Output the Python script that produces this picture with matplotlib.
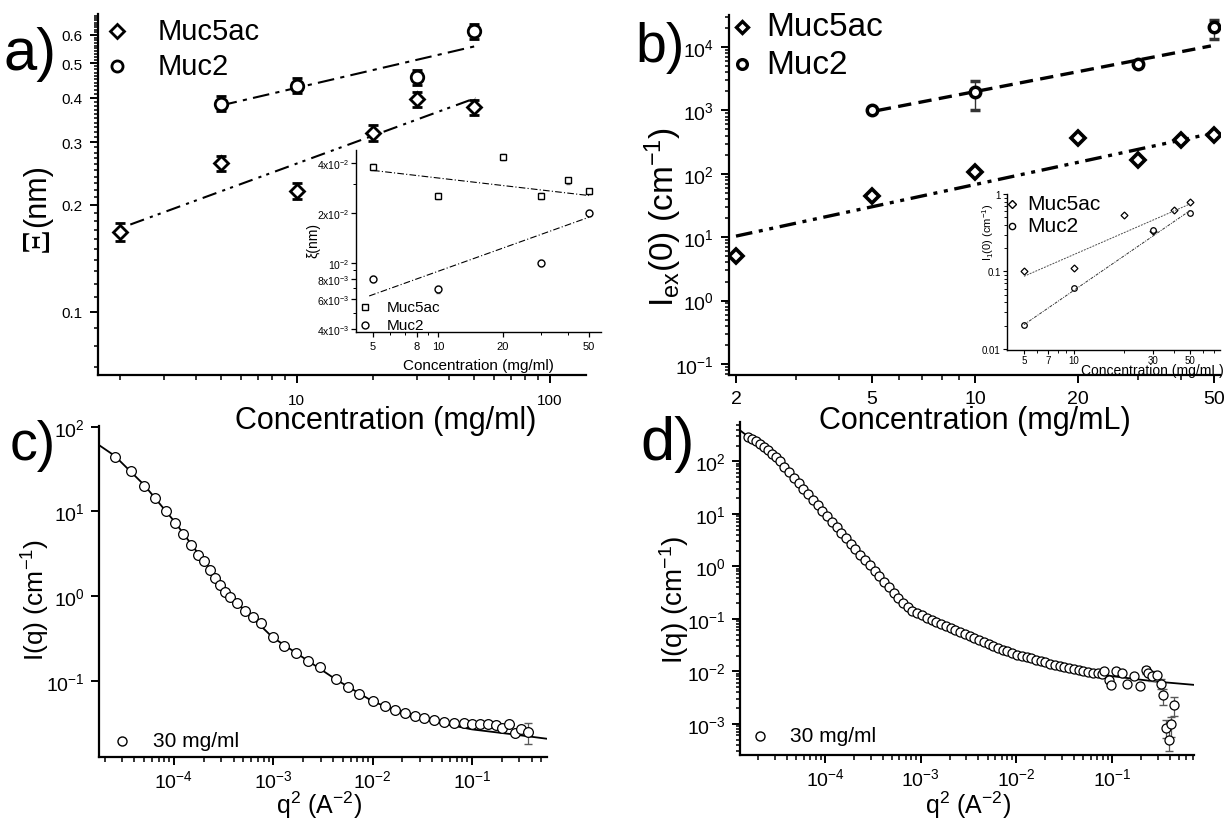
import numpy as np
import matplotlib
matplotlib.use('Agg')
import matplotlib.pyplot as plt
from matplotlib.lines import Line2D
from matplotlib.ticker import FixedLocator, FixedFormatter, NullFormatter

plt.rcParams['font.family'] = ['Liberation Sans', 'DejaVu Sans']
plt.rcParams['mathtext.fontset'] = 'custom'
plt.rcParams['mathtext.rm'] = 'Liberation Sans'
plt.rcParams['mathtext.it'] = 'Liberation Sans:italic'
plt.rcParams['mathtext.bf'] = 'Liberation Sans:bold'
plt.rcParams['mathtext.default'] = 'regular'

# ------------------------------------------------------------------ data
# panel a (main)
a_conc_muc5ac = [2, 5, 10, 20, 30, 50]
a_xi_muc5ac = [0.168, 0.262, 0.219, 0.319, 0.396, 0.376]
a_err_muc5ac = [0.010, 0.013, 0.011, 0.016, 0.020, 0.019]
a_conc_muc2 = [5, 10, 30, 50]
a_xi_muc2 = [0.385, 0.432, 0.456, 0.614]
a_err_muc2 = [0.019, 0.021, 0.022, 0.030]
a_fit_muc5ac_x = [2.2, 51]
a_fit_muc5ac_y = [0.176, 0.399]
a_fit_muc2_x = [5, 52]
a_fit_muc2_y = [0.380, 0.560]
a_yticks = [0.1, 0.2, 0.3, 0.4, 0.5, 0.6]
a_ylabels = ['0.1', '0.2', '0.3', '0.4', '0.5', '0.6']
a_xticks = [10, 100]
a_xlabels = ['10', '100']

# panel a (inset)
ai_conc_muc5ac = [5, 10, 20, 30, 40, 50]
ai_xi_muc5ac = [0.0378, 0.0252, 0.0434, 0.0252, 0.0313, 0.0269]
ai_err_muc5ac = [0.0015, 0.0010, 0.0017, 0.0010, 0.0013, 0.0011]
ai_conc_muc2 = [5, 10, 30, 50]
ai_xi_muc2 = [0.0080, 0.0069, 0.0100, 0.0200]
ai_err_muc2 = [0.0003, 0.0003, 0.0004, 0.0008]
ai_fit_muc5ac_x = [5, 50]
ai_fit_muc5ac_y = [0.0360, 0.0254]
ai_fit_muc2_x = [4.8, 50]
ai_fit_muc2_y = [0.0063, 0.0188]
ai_xticks = [5, 8, 10, 20, 50]
ai_xlabels = ['5', '8', '10', '20', '50']
ai_yticks = [0.004, 0.006, 0.008, 0.01, 0.02, 0.04]
ai_ylabels = ['4x10$^{-3}$', '6x10$^{-3}$', '8x10$^{-3}$', '10$^{-2}$',
              '2x10$^{-2}$', '4x10$^{-2}$']

# panel b (main)
b_conc_muc5ac = [2, 5, 10, 20, 30, 40, 50]
b_i0_muc5ac = [5.1, 43.9, 108, 366, 168, 340, 413]
b_err_muc5ac = [0.5, 4, 10, 30, 20, 30, 35]
b_conc_muc2 = [5, 10, 30, 50]
b_i0_muc2 = [1012, 1972, 5324, 20700]
b_err_muc2_lo = [60, 972, 300, 7500]
b_err_muc2_hi = [60, 928, 300, 6300]
b_fit_muc5ac_x = [2, 50]
b_fit_muc5ac_y = [10.4, 440]
b_fit_muc2_x = [5.2, 49]
b_fit_muc2_y = [1000, 10400]
b_xticks = [2, 5, 10, 20, 50]
b_xlabels = ['2', '5', '10', '20', '50']
b_yticks = [0.1, 1, 10, 100, 1000, 10000]
b_ylabels = ['10$^{-1}$', '10$^{0}$', '10$^{1}$', '10$^{2}$', '10$^{3}$', '10$^{4}$']

# panel b (inset)
bi_conc_muc5ac = [5, 10, 20, 30, 40, 50]
bi_i1_muc5ac = [0.100, 0.111, 0.54, 0.33, 0.628, 0.80]
bi_conc_muc2 = [5, 10, 30, 50]
bi_i1_muc2 = [0.0206, 0.061, 0.343, 0.569]
bi_fit_muc5ac_x = [5, 50]
bi_fit_muc5ac_y = [0.0867, 0.743]
bi_fit_muc2_x = [5, 50]
bi_fit_muc2_y = [0.0206, 0.61]
bi_xticks = [5, 7, 10, 30, 50]
bi_xlabels = ['5', '7', '10', '30', '50']
bi_yticks = [0.01, 0.1, 1]
bi_ylabels = ['0.01', '0.1', '1']

# panel c
c_q2 = [2.53e-5, 3.66e-5, 5.04e-5, 6.50e-5, 8.33e-5, 1.02e-4, 1.22e-4, 1.47e-4,
        1.73e-4, 2.00e-4, 2.30e-4, 2.61e-4, 2.94e-4, 3.28e-4, 3.70e-4, 4.32e-4,
        5.19e-4, 6.24e-4, 7.48e-4, 9.85e-4, 1.29e-3, 1.71e-3, 2.24e-3, 2.95e-3,
        4.26e-3, 5.60e-3, 7.36e-3, 1.01e-2, 1.34e-2, 1.68e-2, 2.11e-2, 2.65e-2,
        3.33e-2, 4.19e-2, 5.27e-2, 6.62e-2, 8.32e-2, 0.100, 0.120, 0.144,
        0.173, 0.199, 0.238, 0.273, 0.313, 0.370]
c_I = [44.2, 29.9, 20.0, 14.4, 10.0, 7.29, 5.45, 3.97,
       3.08, 2.59, 2.04, 1.64, 1.36, 1.13, 0.970, 0.830,
       0.674, 0.562, 0.482, 0.326, 0.259, 0.212, 0.172, 0.144,
       0.104, 0.0855, 0.0695, 0.0579, 0.0505, 0.0453, 0.0414, 0.0385,
       0.0361, 0.0342, 0.0330, 0.0321, 0.0315, 0.0306, 0.0306, 0.0312,
       0.0298, 0.0280, 0.0306, 0.0244, 0.0267, 0.0249]
c_err_x = [0.370]
c_err_y = [0.0249]
c_err_lo = [0.0072]
c_err_hi = [0.0070]
c_fit_q2 = [1.76e-5, 2.53e-5, 5.04e-5, 1.02e-4, 2.00e-4, 4.32e-4, 9.85e-4,
            2.24e-3, 4.26e-3, 1.01e-2, 2.65e-2, 0.100, 0.261, 0.568]
c_fit_I = [60.7, 45.4, 20.4, 7.50, 2.59, 0.830, 0.326,
           0.172, 0.104, 0.0569, 0.0367, 0.0267, 0.0233, 0.0207]
c_xticks = [1e-4, 1e-3, 1e-2, 1e-1]
c_xlabels = ['10$^{-4}$', '10$^{-3}$', '10$^{-2}$', '10$^{-1}$']
c_yticks = [0.1, 1, 10, 100]
c_ylabels = ['10$^{-1}$', '10$^{0}$', '10$^{1}$', '10$^{2}$']

# panel d
d_q2 = [1.56e-5, 1.72e-5, 1.89e-5, 2.08e-5, 2.28e-5, 2.51e-5, 2.76e-5, 3.04e-5,
        3.34e-5, 3.75e-5, 4.21e-5, 4.71e-5, 5.28e-5, 5.92e-5, 6.64e-5, 7.45e-5,
        8.34e-5, 9.35e-5, 1.05e-4, 1.17e-4, 1.32e-4, 1.48e-4, 1.66e-4, 1.86e-4,
        2.08e-4, 2.33e-4, 2.62e-4, 2.93e-4, 3.29e-4, 3.69e-4, 4.13e-4, 4.63e-4,
        5.20e-4, 5.82e-4, 6.53e-4, 7.33e-4, 8.20e-4, 9.20e-4, 1.03e-3, 1.16e-3,
        1.30e-3, 1.46e-3, 1.63e-3, 1.83e-3, 2.05e-3, 2.30e-3, 2.58e-3, 2.88e-3,
        3.24e-3, 3.63e-3, 4.07e-3, 4.56e-3, 5.12e-3, 5.73e-3, 6.43e-3, 7.21e-3,
        8.07e-3, 9.06e-3, 1.02e-2, 1.14e-2, 1.28e-2, 1.43e-2, 1.60e-2, 1.80e-2,
        2.01e-2, 2.26e-2, 2.53e-2, 2.84e-2, 3.18e-2, 3.57e-2, 4.00e-2, 4.49e-2,
        5.03e-2, 5.64e-2, 6.32e-2, 7.10e-2, 7.94e-2, 8.26e-2, 9.25e-2, 9.80e-2,
        0.110, 0.127, 0.144, 0.169, 0.195, 0.224, 0.240, 0.264,
        0.298, 0.329, 0.344, 0.368, 0.397, 0.417, 0.446]
d_I = [291, 267, 240, 214, 188, 162, 140, 119,
       100, 79.1, 62.6, 48.8, 38.6, 30.1, 23.8, 18.6,
       14.7, 11.5, 9.08, 7.08, 5.60, 4.37, 3.46, 2.70,
       2.13, 1.66, 1.32, 1.04, 0.813, 0.643, 0.501, 0.397,
       0.310, 0.248, 0.202, 0.168, 0.143, 0.127, 0.116, 0.105,
       0.0946, 0.0867, 0.0794, 0.0728, 0.0667, 0.0610, 0.0558, 0.0512,
       0.0469, 0.0430, 0.0394, 0.0361, 0.0330, 0.0302, 0.0281, 0.0258,
       0.0239, 0.0222, 0.0207, 0.0195, 0.0184, 0.0176, 0.0166, 0.0159,
       0.0150, 0.0141, 0.0135, 0.0127, 0.0122, 0.0117, 0.0112, 0.0107,
       0.0102, 0.0098, 0.0095, 0.0092, 0.0089, 0.0100, 0.0067, 0.0056,
       0.0100, 0.0094, 0.0058, 0.0081, 0.0052, 0.0104, 0.0094, 0.0083,
       0.0086, 0.0058, 0.00347, 0.00084, 0.00050, 0.00100, 0.00224]
d_err_x = [0.224, 0.264, 0.329, 0.344, 0.368, 0.397, 0.417, 0.446]
d_err_y = [0.0104, 0.0083, 0.0058, 0.00347, 0.00084, 0.00050, 0.00100, 0.00224]
d_err_lo = [0.0015, 0.0018, 0.0012, 0.0012, 0.00030, 0.00020, 0.00045, 0.00085]
d_err_hi = [0.0015, 0.0018, 0.0012, 0.0012, 0.00035, 0.00038, 0.00034, 0.00096]
d_fit_q2 = [1.29e-5, 1.56e-5, 2.28e-5, 3.34e-5, 5.92e-5, 1.0e-4, 2.93e-4, 6.53e-4,
            1.03e-3, 1.83e-3, 4.56e-3, 1.02e-2, 3.18e-2, 0.100, 0.285, 0.72]
d_fit_I = [390, 299, 193, 100, 30.1, 10.1, 1.04, 0.202,
           0.116, 0.0728, 0.0361, 0.0207, 0.0122, 0.0081, 0.0064, 0.00553]
d_xticks = [1e-4, 1e-3, 1e-2, 1e-1]
d_xlabels = ['10$^{-4}$', '10$^{-3}$', '10$^{-2}$', '10$^{-1}$']
d_yticks = [1e-3, 1e-2, 1e-1, 1, 10, 100]
d_ylabels = ['10$^{-3}$', '10$^{-2}$', '10$^{-1}$', '10$^{0}$', '10$^{1}$', '10$^{2}$']

# ------------------------------------------------------------------ helpers
W, H = 1226, 820
fig = plt.figure(figsize=(W / 100, H / 100), dpi=100)


def fx(x):
    return x / W


def fy(y):
    return 1 - y / H


def ax_px(l, t, r, b):
    return fig.add_axes([l / W, 1 - b / H, (r - l) / W, (b - t) / H])


def base(ax, xlim, ylim, lw=1.6):
    ax.set_xscale('log')
    ax.set_yscale('log')
    ax.set_xlim(*xlim)
    ax.set_ylim(*ylim)
    for s in ['top', 'right']:
        ax.spines[s].set_visible(False)
    for s in ['left', 'bottom']:
        ax.spines[s].set_linewidth(lw)


def ticks(ax, axis, major, labels, minor, fs, pad, mlen=6, nlen=3.5, width=1.4):
    a = ax.xaxis if axis == 'x' else ax.yaxis
    a.set_major_locator(FixedLocator(major))
    a.set_major_formatter(FixedFormatter(labels))
    a.set_minor_locator(FixedLocator(minor))
    a.set_minor_formatter(NullFormatter())
    ax.tick_params(axis=axis, which='major', direction='out', length=mlen,
                   width=width, labelsize=fs, pad=pad)
    ax.tick_params(axis=axis, which='minor', direction='out', length=nlen,
                   width=width * 0.8)


def log_minor(lo, hi):
    out = []
    for d in range(lo, hi + 1):
        for s in range(2, 10):
            out.append(s * 10.0 ** d)
    return out


def legend_item(x, y, marker, ms, mew, text, tx, fs):
    fig.add_artist(Line2D([fx(x)], [fy(y)], transform=fig.transFigure,
                          marker=marker, ms=ms, mfc='white', mec='black',
                          mew=mew, ls='none'))
    fig.text(fx(tx), fy(y), text, fontsize=fs, ha='left', va='center')


# ------------------------------------------------------------------ panel a
ax = ax_px(98, 15, 586, 376)
base(ax, (1.64, 139), (0.0665, 0.687))
ticks(ax, 'x', a_xticks, a_xlabels,
      [2, 3, 4, 5, 6, 7, 8, 9, 20, 30, 40, 50, 60, 70, 80, 90], 11, 7)
ya_minor = [v for v in np.round(np.arange(0.07, 0.685, 0.01), 2)
            if not any(abs(v - t) < 1e-6 for t in a_yticks)]
ticks(ax, 'y', a_yticks, a_ylabels, ya_minor, 11, 5, nlen=3)
ax.errorbar(a_conc_muc5ac, a_xi_muc5ac, yerr=a_err_muc5ac, fmt='D', ms=7.5,
            mfc='white', mec='black', mew=2.0, ecolor='black', elinewidth=1.2,
            capsize=3.5, capthick=1.2, zorder=3)
ax.errorbar(a_conc_muc2, a_xi_muc2, yerr=a_err_muc2, fmt='o', ms=9,
            mfc='white', mec='black', mew=2.0, ecolor='black', elinewidth=1.2,
            capsize=3.5, capthick=1.2, zorder=3)
ax.plot(a_fit_muc5ac_x, a_fit_muc5ac_y, color='black', lw=1.5,
        dashes=(7, 3, 1.5, 2.5, 1.5, 3))
ax.plot(a_fit_muc2_x, a_fit_muc2_y, color='black', lw=1.5, dashes=(8, 3, 2, 3))

legend_item(117, 32, 'D', 7.5, 2.0, 'Muc5ac', 158, 21)
legend_item(117, 67, 'o', 8, 2.0, 'Muc2', 158, 21)
fig.text(fx(4), fy(70), 'a)', fontsize=43, ha='left', va='baseline')
fig.text(fx(386), fy(421), 'Concentration (mg/ml)', fontsize=22,
         ha='center', va='center')
fig.text(fx(37), fy(196), '(nm)', fontsize=22, rotation=90,
         ha='center', va='center')
fig.text(fx(38), fy(240), 'Ξ', fontsize=28, rotation=90, ha='center',
         va='center', family=['Liberation Serif', 'DejaVu Serif'])

# inset a
axi = ax_px(356, 151, 601, 333)
base(axi, (4.17, 56.8), (0.00382, 0.0478), lw=1.0)
ticks(axi, 'x', ai_xticks, ai_xlabels, [6, 7, 9, 30, 40], 8, 3,
      mlen=3.5, nlen=2, width=0.9)
ticks(axi, 'y', ai_yticks, ai_ylabels, [0.005, 0.007, 0.009, 0.03], 7.5, 1.5,
      mlen=3.5, nlen=2, width=0.9)
axi.errorbar(ai_conc_muc5ac, ai_xi_muc5ac, yerr=ai_err_muc5ac,
             fmt='s', ms=4.5, mfc='white', mec='black', mew=1.0,
             ecolor='0.4', elinewidth=0.8, capsize=1.5)
axi.errorbar(ai_conc_muc2, ai_xi_muc2, yerr=ai_err_muc2,
             fmt='o', ms=5, mfc='white', mec='black', mew=1.0,
             ecolor='0.4', elinewidth=0.8, capsize=1.5)
axi.plot(ai_fit_muc5ac_x, ai_fit_muc5ac_y, color='black', lw=0.8,
         dashes=(6, 2, 1, 2))
axi.plot(ai_fit_muc2_x, ai_fit_muc2_y, color='black', lw=0.8,
         dashes=(6, 2, 1, 2))
legend_item(365, 308, 's', 4.5, 1.0, 'Muc5ac', 387, 11)
legend_item(365, 326, 'o', 5, 1.0, 'Muc2', 387, 11)
fig.text(fx(478), fy(366), 'Concentration (mg/ml)', fontsize=11,
         ha='center', va='center')
fig.text(fx(313), fy(240), 'ξ(nm)', fontsize=10, rotation=90,
         ha='center', va='center')

# ------------------------------------------------------------------ panel b
bx = ax_px(729, 16, 1220, 376)
base(bx, (1.908, 52.1), (0.067, 3.2e4))
ticks(bx, 'x', b_xticks, b_xlabels, [3, 4, 6, 7, 8, 9, 30, 40], 14, 5)
ticks(bx, 'y', b_yticks, b_ylabels, log_minor(-2, 4), 14, 5, nlen=3)
bx.errorbar(b_conc_muc5ac, b_i0_muc5ac, yerr=b_err_muc5ac, fmt='D', ms=7.5,
            mfc='white', mec='black', mew=2.6, ecolor='0.45', elinewidth=1.0,
            capsize=2.5, zorder=3)
bx.errorbar(b_conc_muc2, b_i0_muc2, yerr=[b_err_muc2_lo, b_err_muc2_hi],
            fmt='o', ms=7.5, mfc='white', mec='black', mew=2.5, ecolor='0.2',
            elinewidth=1.0, capsize=3.5, zorder=3)
bx.plot(b_fit_muc5ac_x, b_fit_muc5ac_y, color='black', lw=2.4,
        dashes=(5, 2, 1.2, 2, 1.2, 2))
bx.plot(b_fit_muc2_x, b_fit_muc2_y, color='black', lw=2.4, dashes=(4, 2.2))

legend_item(742, 28, 'D', 6.5, 2.4, 'Muc5ac', 766, 24)
legend_item(742, 65, 'o', 7, 2.4, 'Muc2', 766, 24)
fig.text(fx(635), fy(62), 'b)', fontsize=40, ha='left', va='baseline')
fig.text(fx(975), fy(421), 'Concentration (mg/mL)', fontsize=22,
         ha='center', va='center')
fig.text(fx(663), fy(217), 'I$_{ex}$(0) (cm$^{-1}$)', fontsize=24,
         rotation=90, ha='center', va='center')

# inset b
bxi = ax_px(1007, 195, 1220, 351)
base(bxi, (3.95, 75.9), (0.0097, 1.0), lw=1.0)
ticks(bxi, 'x', bi_xticks, bi_xlabels, [6, 8, 9, 20, 40, 60, 70], 7, 0.5,
      mlen=3, nlen=2, width=0.8)
ticks(bxi, 'y', bi_yticks, bi_ylabels, log_minor(-2, -1), 7, 1.5,
      mlen=3, nlen=2, width=0.8)
bxi.plot(bi_conc_muc5ac, bi_i1_muc5ac, 'D', ms=3.5, mfc='white', mec='black',
         mew=0.9)
bxi.plot(bi_conc_muc2, bi_i1_muc2, 'o', ms=4, mfc='white', mec='black', mew=0.9)
bxi.plot(bi_fit_muc5ac_x, bi_fit_muc5ac_y, color='0.3', lw=0.7, dashes=(2, 1.2))
bxi.plot(bi_fit_muc2_x, bi_fit_muc2_y, color='0.2', lw=0.7,
         dashes=(3, 1.2, 1, 1.2))
legend_item(1012, 205, 'D', 4, 1.0, 'Muc5ac', 1027, 15)
legend_item(1012, 227, 'o', 4.5, 1.0, 'Muc2', 1027, 15)
fig.text(fx(1152), fy(371), 'Concentration (mg/mL)', fontsize=10,
         ha='center', va='center')
fig.text(fx(988), fy(232), 'I$_{1}$(0) (cm$^{-1}$)', fontsize=8,
         rotation=90, ha='center', va='center')

# ------------------------------------------------------------------ panel c
cx = ax_px(99, 427, 547, 758)
base(cx, (1.76e-5, 0.57), (0.0126, 102))
ticks(cx, 'x', c_xticks, c_xlabels, log_minor(-5, -1), 14, 3)
ticks(cx, 'y', c_yticks, c_ylabels, [], 14, 4)
cx.plot(c_fit_q2, c_fit_I, color='black', lw=1.3, zorder=2)
cx.errorbar(c_err_x, c_err_y, yerr=[c_err_lo, c_err_hi], fmt='none',
            ecolor='0.35', elinewidth=0.9, capsize=3, zorder=3)
cx.plot(c_q2, c_I, 'o', ms=7, mfc='white', mec='black', mew=0.9, zorder=4)
legend_item(122, 742, 'o', 6.5, 1.0, '30 mg/ml', 153, 15)
fig.text(fx(10), fy(460), 'c)', fontsize=40, ha='left', va='baseline')
fig.text(fx(36), fy(600), 'I(q) (cm$^{-1}$)', fontsize=19, rotation=90,
         ha='center', va='center')
fig.text(fx(319), fy(805), 'q$^{2}$ (A$^{-2}$)', fontsize=18,
         ha='center', va='center')

# ------------------------------------------------------------------ panel d
dx = ax_px(740, 423, 1194, 756)
base(dx, (1.29e-5, 0.72), (2.55e-4, 562))
ticks(dx, 'x', d_xticks, d_xlabels, log_minor(-5, -1), 14, 3)
ticks(dx, 'y', d_yticks, d_ylabels, log_minor(-4, 2), 14, 4, nlen=3)
dx.plot(d_fit_q2, d_fit_I, color='black', lw=1.3, zorder=2)
dx.errorbar(d_err_x, d_err_y, yerr=[d_err_lo, d_err_hi], fmt='none',
            ecolor='0.35', elinewidth=0.9, capsize=3, zorder=3)
dx.plot(d_q2, d_I, 'o', ms=6.5, mfc='white', mec='black', mew=0.9, zorder=4)
legend_item(760, 737, 'o', 6.5, 1.0, '30 mg/ml', 790, 15)
fig.text(fx(640), fy(460), 'd)', fontsize=44, ha='left', va='baseline')
fig.text(fx(674), fy(600), 'I(q) (cm$^{-1}$)', fontsize=20, rotation=90,
         ha='center', va='center')
fig.text(fx(968), fy(805), 'q$^{2}$ (A$^{-2}$)', fontsize=18,
         ha='center', va='center')

fig.savefig('out.png', dpi=100)
